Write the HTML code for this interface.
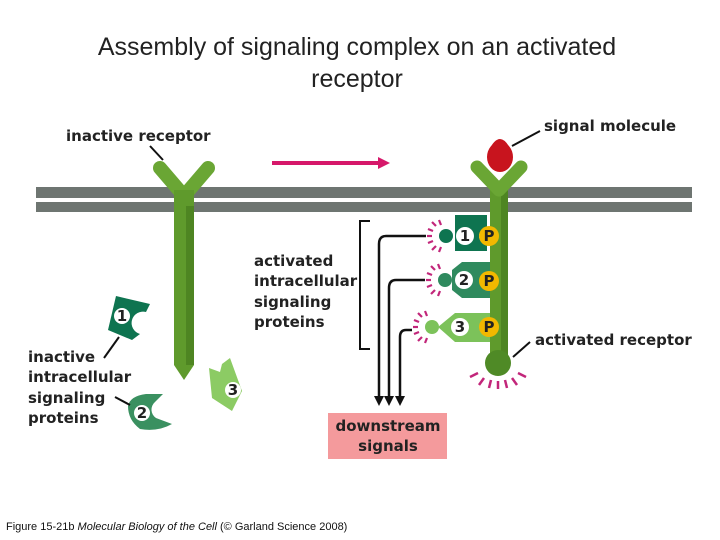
<!DOCTYPE html>
<html><head><style>
body{margin:0;background:#fff;}
svg{display:block}
.b{font-family:"DejaVu Sans","Liberation Sans",sans-serif;font-weight:bold;fill:#222;font-size:15px}
</style></head><body>
<svg width="720" height="540" viewBox="0 0 720 540">
<text x="357" y="55" text-anchor="middle" font-family="Liberation Sans,sans-serif" font-size="25" fill="#222">Assembly of signaling complex on an activated</text>
<text x="357" y="87" text-anchor="middle" font-family="Liberation Sans,sans-serif" font-size="25" fill="#222">receptor</text>
<rect x="36" y="187" width="656" height="11" fill="#6e7571"/>
<rect x="36" y="202" width="656" height="10" fill="#6e7571"/>
<path d="M174 205 L174 365 L184 380 L194 365 L194 205 Z" fill="#5f9a2c"/>
<rect x="186" y="205" width="8" height="160" fill="#4e8522"/>
<path d="M160 168 L184 196 L208 168" stroke="#6aa634" stroke-width="14" fill="none" stroke-linecap="round" stroke-linejoin="round"/>
<rect x="174" y="190" width="20" height="16" fill="#5f9a2c"/>
<text class="b" x="66" y="141" font-size="14.6">inactive receptor</text>
<line x1="150" y1="146" x2="163" y2="160" stroke="#111" stroke-width="2"/>
<line x1="272" y1="163" x2="380" y2="163" stroke="#d6186a" stroke-width="4"/>
<path d="M378 157 L390 163 L378 169 Z" fill="#d6186a"/>
<rect x="490" y="190" width="18" height="170" fill="#5f9a2c"/>
<rect x="501" y="190" width="7" height="170" fill="#4e8522"/>
<path d="M477 167 L499 190 L521 167" stroke="#6aa634" stroke-width="13" fill="none" stroke-linecap="round" stroke-linejoin="round"/>
<ellipse cx="500" cy="157" rx="13" ry="15" fill="#c8141e"/>
<path d="M489 150 Q500 128 511 150 Z" fill="#c8141e"/>
<circle cx="498" cy="363" r="13" fill="#4f8a26"/>
<text class="b" x="544" y="131" font-size="14.8">signal molecule</text>
<line x1="540" y1="131" x2="512" y2="146" stroke="#111" stroke-width="2"/>
<text class="b" x="535" y="345" font-size="14.5">activated receptor</text>
<line x1="530" y1="342" x2="513" y2="357" stroke="#111" stroke-width="2"/>
<g stroke="#c2267a" stroke-width="2.5">
<line x1="478" y1="373" x2="470" y2="377"/><line x1="484" y1="378" x2="479" y2="385"/><line x1="491" y1="380" x2="489" y2="388"/><line x1="498" y1="381" x2="498" y2="389"/><line x1="505" y1="380" x2="507" y2="388"/><line x1="512" y1="378" x2="517" y2="385"/><line x1="518" y1="373" x2="526" y2="377"/>
</g>
<path d="M455 215 L487 215 L487 228 A8 8 0 0 0 487 244 L487 251 L455 251 Z" fill="#0e7450"/>
<circle cx="446" cy="236" r="7" fill="#0e7450"/>
<circle cx="465" cy="236" r="9" fill="#fff"/><text x="465" y="241" text-anchor="middle" class="b" font-size="13">1</text>
<circle cx="489" cy="236" r="10" fill="#f2b800"/><text x="489" y="241" text-anchor="middle" class="b" font-size="13">P</text>
<path d="M452 270 L462 262 L490 262 L490 272 A9 9 0 0 0 490 290 L490 298 L462 298 L452 290 Z" fill="#2f8a5e"/>
<circle cx="445" cy="280" r="7" fill="#2f8a5e"/>
<circle cx="464" cy="280" r="9" fill="#fff"/><text x="464" y="285" text-anchor="middle" class="b" font-size="13">2</text>
<circle cx="489" cy="281" r="10" fill="#f2b800"/><text x="489" y="286" text-anchor="middle" class="b" font-size="13">P</text>
<path d="M438 327 L455 313 L490 313 L490 342 L455 342 Z" fill="#7cc25a"/>
<circle cx="432" cy="327" r="7" fill="#7cc25a"/>
<circle cx="460" cy="327" r="9" fill="#fff"/><text x="460" y="332" text-anchor="middle" class="b" font-size="13">3</text>
<circle cx="489" cy="327" r="10" fill="#f2b800"/><text x="489" y="332" text-anchor="middle" class="b" font-size="13">P</text>
<g stroke="#c2267a" stroke-width="2.2">
<line x1="436" y1="226" x2="432" y2="222"/><line x1="433" y1="231" x2="428" y2="229"/><line x1="432" y1="236" x2="427" y2="236"/><line x1="433" y1="241" x2="428" y2="243"/><line x1="436" y1="246" x2="432" y2="250"/><line x1="441" y1="225" x2="439" y2="220"/><line x1="441" y1="247" x2="439" y2="252"/>
<line x1="435" y1="270" x2="431" y2="266"/><line x1="432" y1="275" x2="427" y2="273"/><line x1="431" y1="280" x2="426" y2="280"/><line x1="432" y1="285" x2="427" y2="287"/><line x1="435" y1="290" x2="431" y2="294"/><line x1="440" y1="269" x2="438" y2="264"/><line x1="440" y1="291" x2="438" y2="296"/>
<line x1="422" y1="317" x2="418" y2="313"/><line x1="419" y1="322" x2="414" y2="320"/><line x1="418" y1="327" x2="413" y2="327"/><line x1="419" y1="332" x2="414" y2="334"/><line x1="422" y1="337" x2="418" y2="341"/><line x1="427" y1="316" x2="425" y2="311"/><line x1="427" y1="338" x2="425" y2="343"/>
</g>
<path d="M370 221 L360 221 L360 349 L370 349" stroke="#111" stroke-width="2" fill="none"/>
<text class="b" x="254" y="266" font-size="14.8">activated</text>
<text class="b" x="254" y="286" font-size="14.8">intracellular</text>
<text class="b" x="254" y="307" font-size="14.8">signaling</text>
<text class="b" x="254" y="327" font-size="14.8">proteins</text>
<g stroke="#111" stroke-width="2.5" fill="none">
<path d="M426 236 L386 236 Q379 236 379 244 L379 398"/>
<path d="M425 280 L396 280 Q389 280 389 288 L389 398"/>
<path d="M412 330 L406 330 Q400 330 400 337 L400 398"/>
</g>
<g fill="#111">
<path d="M374 396 L379 406 L384 396Z"/><path d="M384 396 L389 406 L394 396Z"/><path d="M395 396 L400 406 L405 396Z"/>
</g>
<rect x="328" y="413" width="119" height="46" fill="#f49a9c"/>
<text class="b" x="388" y="431" text-anchor="middle">downstream</text>
<text class="b" x="388" y="451" text-anchor="middle">signals</text>
<path d="M116 296 L150 304 L146 312 A8 8 0 0 0 140 334 L132 340 L108 330 Z" fill="#0e7450"/>
<circle cx="122" cy="316" r="8" fill="#fff"/><text x="122" y="321" text-anchor="middle" class="b" font-size="13">1</text>
<line x1="119" y1="337" x2="104" y2="358" stroke="#111" stroke-width="2"/>
<path d="M128 406 Q130 396 146 394 L163 394 L155 402 A10 10 0 0 0 156 418 L172 424 Q158 432 140 429 Q128 420 128 406 Z" fill="#3a9060"/>
<circle cx="142" cy="413" r="8" fill="#fff"/><text x="142" y="418" text-anchor="middle" class="b" font-size="13">2</text>
<line x1="115" y1="397" x2="130" y2="405" stroke="#111" stroke-width="2"/>
<path d="M209 368 L220 372 L222 364 L230 358 L242 391 L232 411 L212 398 Z" fill="#8ccb64"/>
<circle cx="233" cy="390" r="8" fill="#fff"/><text x="233" y="395" text-anchor="middle" class="b" font-size="13">3</text>
<text class="b" x="28" y="362">inactive</text>
<text class="b" x="28" y="382">intracellular</text>
<text class="b" x="28" y="403">signaling</text>
<text class="b" x="28" y="423">proteins</text>
<text x="6" y="530" font-family="Liberation Sans,sans-serif" font-size="11" fill="#111">Figure 15-21b <tspan font-style="italic">Molecular Biology of the Cell</tspan> (© Garland Science 2008)</text>
</svg>
</body></html>
